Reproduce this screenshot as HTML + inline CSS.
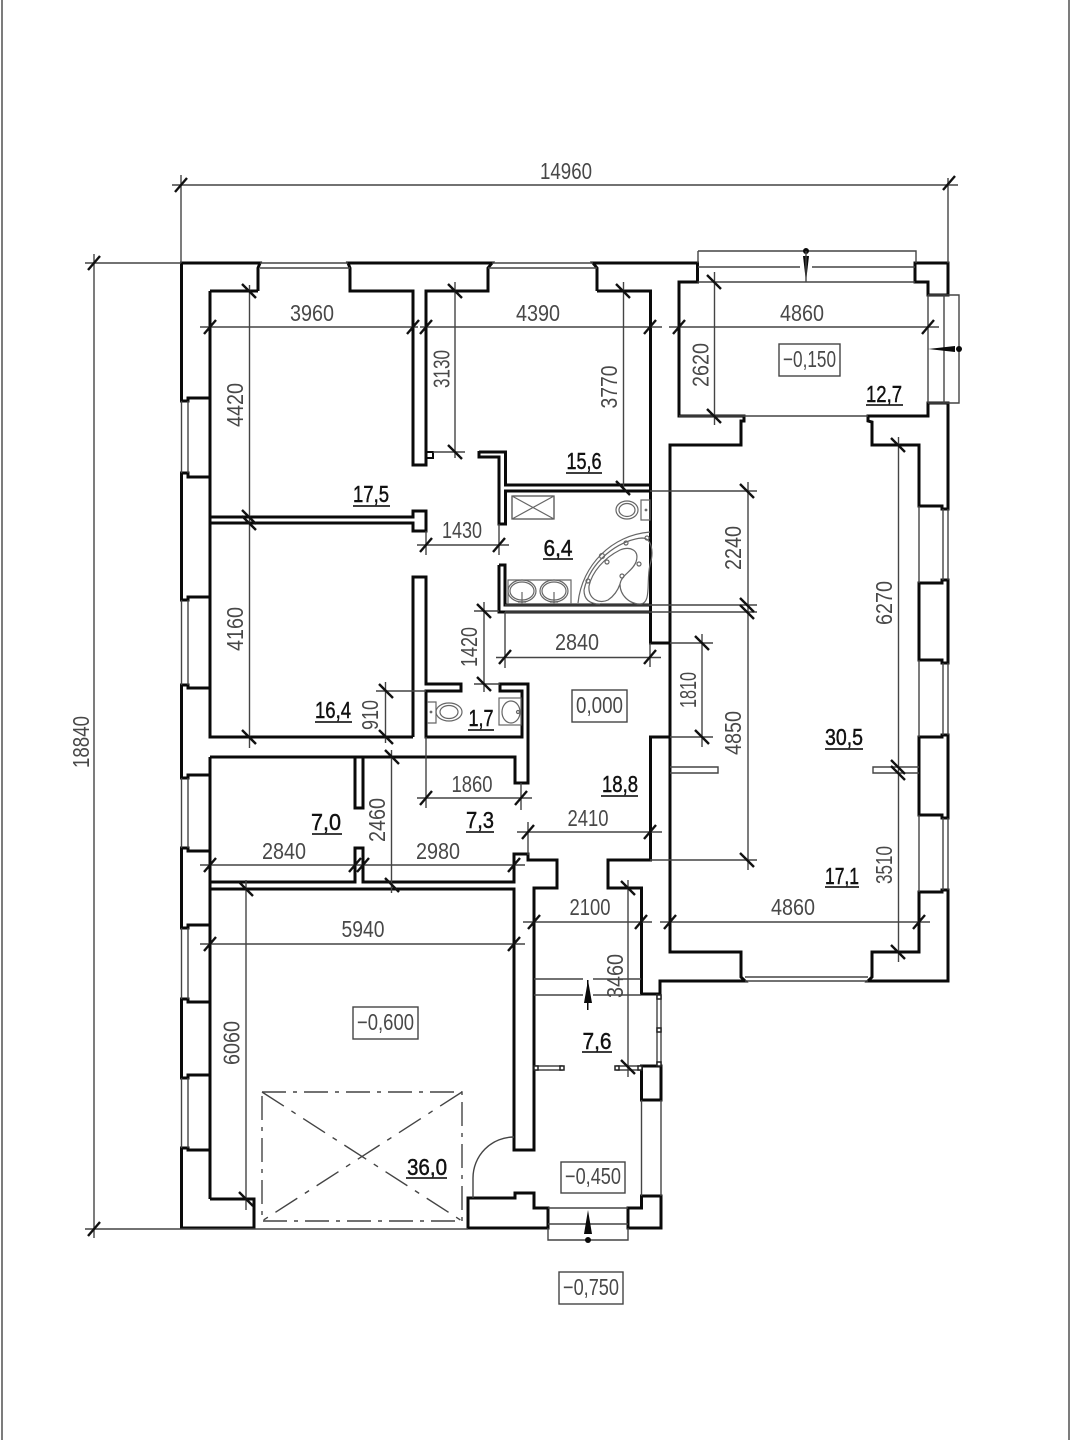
<!DOCTYPE html>
<html><head><meta charset="utf-8"><style>
html,body{margin:0;padding:0;background:#fff}
svg{display:block}
.k{fill:none;stroke:#0a0a0a;stroke-width:3;stroke-linejoin:miter}
.n{fill:none;stroke:#444;stroke-width:1.4}
.u{fill:none;stroke:#222;stroke-width:1.8}
.f{fill:none;stroke:#666;stroke-width:1.2}
.t{fill:none;stroke:#111;stroke-width:2.4}
text{font-family:"Liberation Sans",sans-serif;font-size:23px;fill:#484848;text-anchor:middle;dominant-baseline:central}
.r{fill:#111;stroke:#111;stroke-width:.45}
</style></head><body>
<svg xmlns="http://www.w3.org/2000/svg" width="1080" height="1440" viewBox="0 0 1080 1440">
<defs><path id="h" class="t" d="M-6 7L6-7"/><path id="v" class="t" d="M-7-7L7 7"/></defs>
<rect width="1080" height="1440" fill="#fff"/>
<path class="n" d="M2 0V1440M1069 0V1440"/>

<!-- thick walls -->
<g class="k">
<path d="M258 291V268L260 263H181.5V401H188V398H210"/>
<path d="M210 477H188V473H181.5V600H188V597H210"/>
<path d="M210 688H188V685H181.5V778H188V775H210"/>
<path d="M210 851H188V848H181.5V928H188V925H210"/>
<path d="M210 1002H188V999H181.5V1078H188V1075H210"/>
<path d="M210 1150H188V1148H181.5V1228H254V1199H210"/>
<path d="M210 291V737H413M210 757V1199M210 291H258"/>
<path d="M350 291H413V465H426V291H488V268L492 263H348L350 268V291Z"/>
<path d="M597 291V268L593 263H697.5V282H679V416H744V421H741V445H670V952H741V977L745 981H660V994H641.5V888H608V860H650.5V737H670"/>
<path d="M597 291H650.5V643H670"/>
<path d="M915 282V263H948V295H928V282Z"/>
<path d="M868 416H928V403H948V509H942V506H919V445H872V422L868 421Z"/>
<path d="M948 580H942V583H919V660H942V663H948Z"/>
<path d="M948 735H942V737H919V815H942V818H948Z"/>
<path d="M948 890H942V892H919V952H872V977L868 981H948Z"/>
<path d="M210 757H515V783H528V684H500V691H522V737H426V691H461V684H426V577H413V737"/>
<path d="M210 517H413V511H426V531H413V523H210"/>
<path d="M426 452H433V458H426" stroke-width="2"/>
<path d="M479 452H505.5V485H650.5M650.5 491H505.5V524H499V457H479V451"/>
<path d="M499 565H505V605H650.5M650.5 612H499V565"/>
<path d="M210 882H355V848H363V882H514V854H528V860H557V888H534V1150H514V889H210"/>
<path d="M355 757V808H363V757"/>
<path d="M468 1228V1198H515V1193H534V1208H548V1228Z"/>
<path d="M628 1228V1208H641.5V1196H661V1228Z"/>
<path d="M641.5 1066H661V1100H641.5Z"/>
<path d="M679 282H697.5"/>
</g>

<!-- thin lines: windows, sills -->
<g class="n">
<path d="M260 263H348M260 268H350M492 263H593M488 268H597"/>
<path d="M697.5 282H915M698 267H800M812 267H915M698 251H916V263M698 251V263M679 416H868"/>
<path d="M928 295H959V403H928M944 295V403M928 295V403"/>
<path d="M181.5 401V473M188 401V473M181.5 600V685M188 600V685M181.5 778V848M188 778V848M181.5 928V999M188 928V999M181.5 1078V1148M188 1078V1148"/>
<path d="M919 506V583M943 509V580M948 509V580M919 660V737M943 663V735M948 663V735M919 815V892M943 818V890M948 818V890"/>
<path d="M745 977H868M745 981H868"/>
<path d="M548 1208H628M548 1228V1240H628V1228M548 1224H628"/>
<path d="M641.5 1100V1196M661 1100V1196M657 994V1066M661 994V1066"/>
<path d="M534 979H583M593 979H641M534 995H583M593 995H641"/>
<path d="M254 1229H468"/>
<path d="M670 767H718V773H670M919 767H873V773H919"/>
<path d="M535 1066H562V1070H535ZM617 1066H641V1070H617Z"/>
<path d="M473 1198V1178A41 41 0 0 1 514 1137"/>
</g>
<g fill="#fff" stroke="#222" stroke-width="1.500">
<rect x="534" y="1066" width="4" height="4"/><rect x="560" y="1066" width="4" height="4"/>
<rect x="615" y="1066" width="4" height="4"/><rect x="638" y="1066" width="4" height="4"/>
<rect x="657" y="995" width="4" height="4"/><rect x="657" y="1028" width="4" height="4"/><rect x="657" y="1062" width="4" height="4"/>
</g>

<!-- garage pit -->
<g class="n">
<path stroke-dasharray="24 7 4 7" d="M262 1092H462V1221H262Z"/>
<path stroke-dasharray="26 9 5 9" d="M262 1092L462 1221M462 1092L262 1221"/>
</g>

<!-- fixtures -->
<g class="f">
<rect x="512" y="496" width="42" height="23" stroke="#444"/><path d="M512 496L554 519M554 496L512 519"/>
<ellipse cx="627" cy="510" rx="11" ry="9"/><ellipse cx="627" cy="510" rx="8" ry="6.500"/><path d="M641 500H650V520H641Z"/><circle cx="646" cy="510" r=".8"/>
<path d="M508 604V580H571V604"/>
<ellipse cx="522" cy="591" rx="14" ry="11"/><ellipse cx="554" cy="591" rx="14" ry="11"/>
<ellipse cx="522" cy="591" rx="12" ry="9"/><ellipse cx="554" cy="591" rx="12" ry="9"/>
<path d="M522 592V604M518 602H526M554 592V604M550 602H558"/>
<path d="M578 603C582 565 612 535 650 532"/>
<path d="M584 590C590 562 618 540 642 538C652 538 654 552 650 565C646 580 652 604 640 604C630 604 620 596 620 584C622 574 632 572 636 562C640 550 630 546 620 550C604 558 592 572 589 586C588 600 600 604 608 600C614 596 618 590 620 584"/>
<path d="M584 590C584 600 590 604 600 604"/>
<circle cx="602" cy="556" r="2.500"/><circle cx="626" cy="543" r="2"/><circle cx="607" cy="562" r="2"/><circle cx="588" cy="581" r="2"/><circle cx="639" cy="564" r="2"/><circle cx="622" cy="576" r="2"/><circle cx="647" cy="538" r="2"/>
<path d="M427 702H436V723H427"/><ellipse cx="449" cy="712" rx="13" ry="9"/><ellipse cx="449" cy="712" rx="9" ry="6.500"/><circle cx="431" cy="712" r=".8"/>
<rect x="499" y="698" width="22" height="27"/><ellipse cx="511" cy="712" rx="9" ry="11"/><circle cx="518" cy="712" r="1.500"/>
</g>

<!-- dimension lines -->
<g class="n">
<path d="M172 185H958M181 175V263M948 178V263"/>
<path d="M94 254V1238M85 263H181M85 1229H254"/>
<path d="M200 327H418M420 327H662M669 327H939"/>
<path d="M249.5 285V748M455 282V458M433 452H465M623.5 282V490"/>
<path d="M417 545H509M426 531V555M499 524V555"/>
<path d="M714.5 272V425"/>
<path d="M748 482V870M650 491H757M505 605H757M505 612H757M650 860H757"/>
<path d="M898.500 437V962"/>
<path d="M702 634V747M670 643H713M670 737H713"/>
<path d="M496 657.500H661M505 612V668M650 643V667"/>
<path d="M484 602V692M474 611H499M474 684H500"/>
<path d="M385.500 682V743M376 691H426M391.500 750V893"/>
<path d="M417 798H532M426 737V808M521 783V810"/>
<path d="M517 832H662M528 822V855"/>
<path d="M200 865H367M352 865H525"/>
<path d="M523 922H652M660 922H930"/>
<path d="M200 944H525"/>
<path d="M246 880V1210M628 880V1077"/>
</g>

<!-- ticks -->
<g>
<use href="#h" x="181" y="185"/><use href="#h" x="949" y="183"/>
<use href="#h" x="94" y="263"/><use href="#h" x="94" y="1229"/>
<use href="#h" x="210" y="327"/><use href="#h" x="413" y="327"/><use href="#h" x="426" y="327"/><use href="#h" x="650" y="327"/><use href="#h" x="679" y="327"/><use href="#h" x="928" y="327"/>
<use href="#h" x="426" y="545"/><use href="#h" x="499" y="545"/>
<use href="#h" x="505" y="657"/><use href="#h" x="650" y="657"/>
<use href="#h" x="426" y="798"/><use href="#h" x="521" y="798"/>
<use href="#h" x="528" y="832"/><use href="#h" x="650" y="832"/>
<use href="#h" x="210" y="865"/><use href="#h" x="355" y="865"/><use href="#h" x="363" y="865"/><use href="#h" x="514" y="865"/>
<use href="#h" x="534" y="922"/><use href="#h" x="641" y="922"/><use href="#h" x="670" y="922"/><use href="#h" x="919" y="922"/>
<use href="#h" x="210" y="944"/><use href="#h" x="514" y="944"/>
<use href="#v" x="249" y="291"/><use href="#v" x="249" y="517"/><use href="#v" x="249" y="523"/><use href="#v" x="249" y="737"/>
<use href="#v" x="455" y="291"/><use href="#v" x="455" y="452"/>
<use href="#v" x="623" y="291"/><use href="#v" x="623" y="488"/>
<use href="#v" x="714" y="282"/><use href="#v" x="714" y="416"/>
<use href="#v" x="747" y="491"/><use href="#v" x="747" y="605"/><use href="#v" x="747" y="612"/><use href="#v" x="747" y="860"/>
<use href="#v" x="898" y="445"/><use href="#v" x="898" y="767"/><use href="#v" x="898" y="773"/><use href="#v" x="898" y="952"/>
<use href="#v" x="702" y="643"/><use href="#v" x="702" y="737"/>
<use href="#v" x="484" y="611"/><use href="#v" x="484" y="684"/>
<use href="#v" x="386" y="691"/><use href="#v" x="386" y="737"/>
<use href="#v" x="392" y="757"/><use href="#v" x="392" y="885"/>
<use href="#v" x="246" y="889"/><use href="#v" x="246" y="1199"/>
<use href="#v" x="628" y="888"/><use href="#v" x="628" y="1067"/>
</g>

<!-- level arrows -->
<g fill="#0a0a0a">
<circle cx="806" cy="251" r="3"/><path d="M803 256H809L806 282Z"/><path class="n" d="M806 251V282"/>
<circle cx="959" cy="349" r="3"/><path d="M955 346V352L928 349Z"/>
<path d="M588 980L584 1003H592Z"/><rect x="587" y="980" width="1.500" height="30"/>
<path d="M588 1210L584 1234H592Z"/><circle cx="588" cy="1240" r="3"/>
</g>

<!-- horizontal dimensions -->
<text x="566" y="171" textLength="52" lengthAdjust="spacingAndGlyphs">14960</text>
<text x="312" y="313" textLength="44" lengthAdjust="spacingAndGlyphs">3960</text>
<text x="538" y="313" textLength="44" lengthAdjust="spacingAndGlyphs">4390</text>
<text x="802" y="313" textLength="44" lengthAdjust="spacingAndGlyphs">4860</text>
<text x="462" y="530" textLength="40" lengthAdjust="spacingAndGlyphs">1430</text>
<text x="577" y="642" textLength="44" lengthAdjust="spacingAndGlyphs">2840</text>
<text x="472" y="784" textLength="41" lengthAdjust="spacingAndGlyphs">1860</text>
<text x="588" y="818" textLength="41" lengthAdjust="spacingAndGlyphs">2410</text>
<text x="284" y="851" textLength="44" lengthAdjust="spacingAndGlyphs">2840</text>
<text x="438" y="851" textLength="44" lengthAdjust="spacingAndGlyphs">2980</text>
<text x="590" y="907" textLength="41" lengthAdjust="spacingAndGlyphs">2100</text>
<text x="793" y="907" textLength="44" lengthAdjust="spacingAndGlyphs">4860</text>
<text x="363" y="929" textLength="43" lengthAdjust="spacingAndGlyphs">5940</text>

<!-- vertical dimensions -->
<text transform="translate(81 742) rotate(-90)" textLength="52" lengthAdjust="spacingAndGlyphs">18840</text>
<text transform="translate(235 405) rotate(-90)" textLength="44" lengthAdjust="spacingAndGlyphs">4420</text>
<text transform="translate(235 629) rotate(-90)" textLength="44" lengthAdjust="spacingAndGlyphs">4160</text>
<text transform="translate(441.500 369) rotate(-90)" textLength="38" lengthAdjust="spacingAndGlyphs">3130</text>
<text transform="translate(609 387) rotate(-90)" textLength="43" lengthAdjust="spacingAndGlyphs">3770</text>
<text transform="translate(700.500 365) rotate(-90)" textLength="44" lengthAdjust="spacingAndGlyphs">2620</text>
<text transform="translate(733 548) rotate(-90)" textLength="44" lengthAdjust="spacingAndGlyphs">2240</text>
<text transform="translate(733 733) rotate(-90)" textLength="44" lengthAdjust="spacingAndGlyphs">4850</text>
<text transform="translate(884 603) rotate(-90)" textLength="44" lengthAdjust="spacingAndGlyphs">6270</text>
<text transform="translate(884 865) rotate(-90)" textLength="38" lengthAdjust="spacingAndGlyphs">3510</text>
<text transform="translate(688 690) rotate(-90)" textLength="36" lengthAdjust="spacingAndGlyphs">1810</text>
<text transform="translate(469 647) rotate(-90)" textLength="40" lengthAdjust="spacingAndGlyphs">1420</text>
<text transform="translate(370 715) rotate(-90)" textLength="30" lengthAdjust="spacingAndGlyphs">910</text>
<text transform="translate(377 820) rotate(-90)" textLength="44" lengthAdjust="spacingAndGlyphs">2460</text>
<text transform="translate(231.500 1043) rotate(-90)" textLength="44" lengthAdjust="spacingAndGlyphs">6060</text>
<text transform="translate(615 976) rotate(-90)" textLength="44" lengthAdjust="spacingAndGlyphs">3460</text>

<!-- room areas -->
<g>
<text class="r" x="584" y="461" textLength="35" lengthAdjust="spacingAndGlyphs">15,6</text><path class="u" d="M566 473H602"/>
<text class="r" x="371" y="494" textLength="36" lengthAdjust="spacingAndGlyphs">17,5</text><path class="u" d="M353 506H390"/>
<text class="r" x="558" y="548" textLength="29" lengthAdjust="spacingAndGlyphs">6,4</text><path class="u" d="M543 559H573"/>
<text class="r" x="333" y="710" textLength="36" lengthAdjust="spacingAndGlyphs">16,4</text><path class="u" d="M315 722H352"/>
<text class="r" x="481" y="718" textLength="25" lengthAdjust="spacingAndGlyphs">1,7</text><path class="u" d="M468 730H494"/>
<text class="r" x="326" y="822" textLength="30" lengthAdjust="spacingAndGlyphs">7,0</text><path class="u" d="M312 834H342"/>
<text class="r" x="480" y="820" textLength="28" lengthAdjust="spacingAndGlyphs">7,3</text><path class="u" d="M466 832H494"/>
<text class="r" x="620" y="784" textLength="36" lengthAdjust="spacingAndGlyphs">18,8</text><path class="u" d="M601 796H638"/>
<text class="r" x="884" y="394" textLength="36" lengthAdjust="spacingAndGlyphs">12,7</text><path class="u" d="M866 405H903"/>
<text class="r" x="844" y="737" textLength="38" lengthAdjust="spacingAndGlyphs">30,5</text><path class="u" d="M825 749H863"/>
<text class="r" x="842" y="876" textLength="34" lengthAdjust="spacingAndGlyphs">17,1</text><path class="u" d="M825 887H859"/>
<text class="r" x="597" y="1041" textLength="29" lengthAdjust="spacingAndGlyphs">7,6</text><path class="u" d="M582 1052H612"/>
<text class="r" x="427" y="1167" textLength="40" lengthAdjust="spacingAndGlyphs">36,0</text><path class="u" d="M406 1178H447"/>
</g>

<!-- level boxes -->
<g class="n">
<rect x="779" y="344" width="61" height="32"/>
<rect x="572" y="690" width="55" height="32"/>
<rect x="353" y="1007" width="65" height="32"/>
<rect x="561" y="1162" width="64" height="31"/>
<rect x="559" y="1272" width="64" height="32"/>
</g>
<text x="809.500" y="359" textLength="53" lengthAdjust="spacingAndGlyphs">−0,150</text>
<text x="599.500" y="705" textLength="47" lengthAdjust="spacingAndGlyphs">0,000</text>
<text x="385.500" y="1022" textLength="57" lengthAdjust="spacingAndGlyphs">−0,600</text>
<text x="593" y="1176" textLength="56" lengthAdjust="spacingAndGlyphs">−0,450</text>
<text x="591" y="1287" textLength="56" lengthAdjust="spacingAndGlyphs">−0,750</text>
</svg>
</body></html>
